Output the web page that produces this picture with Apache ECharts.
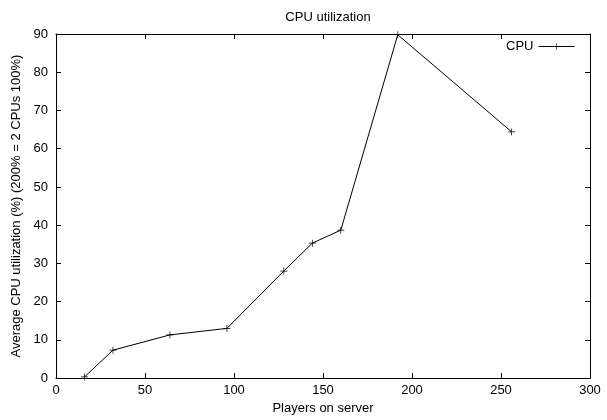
<!DOCTYPE html>
<html><head><meta charset="utf-8">
<script src="https://cdn.jsdelivr.net/npm/echarts@6/dist/echarts.min.js"></script>
<style>html,body{margin:0;padding:0;background:#fff}#c{width:607px;height:420px}</style>
</head><body><div id="c"></div>
<script>
var players = [16, 32, 64, 96, 128, 144, 160, 192, 256];
var cpu = [0.3, 7.3, 11.3, 13.0, 28.0, 35.3, 38.7, 89.8, 64.4];
var seriesName = 'CPU';
var titleText = 'CPU utilization';
var xName = 'Players on server';
var yName = 'Average CPU utilization (%) (200% = 2 CPUs 100%)';

var font = 'Liberation Sans, Arial, sans-serif';
var fs = 13;
var plus = 'path://M-5,-0.5H5V0.5H-5Z M-0.5,-5H0.5V5H-0.5Z';
var chart = echarts.init(document.getElementById('c'));
var axisCommon = {
  axisLine: {show: true, onZero: false, lineStyle: {color: '#000', width: 1}},
  axisTick: {show: true, inside: true, length: 5, lineStyle: {color: '#000'}},
  splitLine: {show: false}
};
chart.setOption({
  animation: false,
  textStyle: {fontFamily: font, color: '#000'},
  title: {text: titleText, left: 323, textAlign: 'center', top: 6,
    textStyle: {fontFamily: font, fontSize: fs, fontWeight: 'normal', color: '#000'}},
  legend: {right: 32, top: 40, padding: 0, align: 'right', itemWidth: 36, itemHeight: 8, itemGap: 7,
    lineStyle: {width: 1, color: '#000'},
    itemStyle: {color: '#000', borderWidth: 0},
    textStyle: {fontFamily: font, fontSize: fs, color: '#000'},
    data: [{name: seriesName}]},
  grid: {left: 56, right: 17, top: 34, bottom: 38},
  xAxis: [
    Object.assign({type: 'value', min: 0, max: 300, interval: 50, position: 'bottom',
      name: xName, nameLocation: 'middle', nameGap: 22,
      nameTextStyle: {fontFamily: font, fontSize: fs, color: '#000'},
      axisLabel: {fontFamily: font, fontSize: fs, color: '#000', margin: 6}}, axisCommon),
    Object.assign({type: 'value', min: 0, max: 300, interval: 50, position: 'top',
      axisLabel: {show: false}}, axisCommon)
  ],
  yAxis: [
    Object.assign({type: 'value', min: 0, max: 90, interval: 10, position: 'left',
      name: yName, nameLocation: 'middle', nameGap: 29,
      nameTextStyle: {fontFamily: font, fontSize: fs, color: '#000'},
      axisLabel: {fontFamily: font, fontSize: fs, color: '#000', margin: 8}}, axisCommon),
    Object.assign({type: 'value', min: 0, max: 90, interval: 10, position: 'right',
      axisLabel: {show: false}}, axisCommon)
  ],
  series: [{
    name: seriesName, type: 'line',
    data: players.map(function (p, i) { return [p, cpu[i]]; }),
    symbol: plus, symbolSize: 7, showAllSymbol: true,
    lineStyle: {color: '#000', width: 1},
    itemStyle: {color: '#000', borderWidth: 0},
    emphasis: {disabled: true}
  }]
});
</script></body></html>
